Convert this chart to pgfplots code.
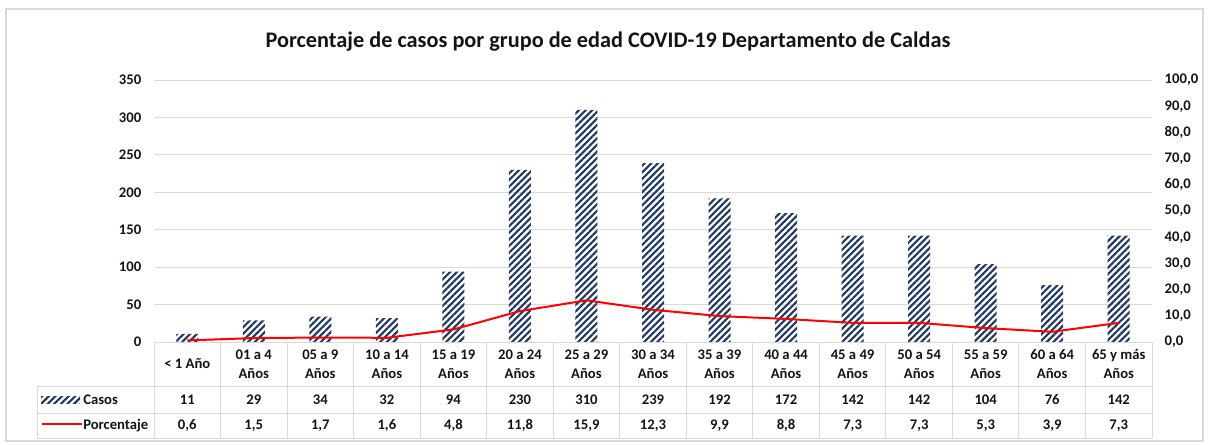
\documentclass[border=0pt]{standalone}
\usepackage{pgfplots}
\pgfplotsset{compat=1.18}
\usepackage{pgfplotstable}
\usepackage{fontspec}
\setmainfont{Carlito}
\usetikzlibrary{patterns.meta}
\definecolor{navy}{RGB}{31,56,100}
\definecolor{gridc}{RGB}{217,217,217}
\definecolor{txt}{RGB}{20,20,20}

\pgfplotstableread{
idx casos pct
0 11 0.6
1 29 1.5
2 34 1.7
3 32 1.6
4 94 4.8
5 230 11.8
6 310 15.9
7 239 12.3
8 192 9.9
9 172 8.8
10 142 7.3
11 142 7.3
12 104 5.3
13 76 3.9
14 142 7.3
}\datatable

\begin{document}
\begin{tikzpicture}
\useasboundingbox (0,0) rectangle (906.75pt,-333.75pt);
\begin{axis}[
  at={(115.5pt,-256.5pt)}, anchor=south west,
  scale only axis, width=748.5pt, height=196.5pt,
  xmin=-0.5, xmax=14.5, ymin=0, ymax=350,
  ytick={0,50,...,350},
  xtick={0,...,14},
  xticklabels={{< 1 Año},{01 a 4\\Años},{05 a 9\\Años},{10 a 14\\Años},{15 a 19\\Años},{20 a 24\\Años},{25 a 29\\Años},{30 a 34\\Años},{35 a 39\\Años},{40 a 44\\Años},{45 a 49\\Años},{50 a 54\\Años},{55 a 59\\Años},{60 a 64\\Años},{65 y más\\Años}},
  xtick pos=bottom, ytick pos=left,
  axis line style={draw=none},
  major tick length=0pt,
  ymajorgrids, grid style={gridc, line width=0.75pt},
  clip=false,
  /pgf/number format/assume math mode=true,
  tick label style={font=\fontsize{11}{14}\selectfont\bfseries, text=txt},
  xticklabel style={align=center, anchor=center, yshift=-16.5pt},
  yticklabel style={anchor=east, xshift=-6pt},
]
\addplot[ybar, bar width=16.5pt, draw=none,
  pattern={Lines[angle=45,distance=3.5pt,line width=1.6pt]}, pattern color=navy]
  table[x=idx, y=casos] {\datatable};
\addplot[draw=none, mark=none, point meta=explicit,
  nodes near coords={\pgfmathprintnumber[fixed,precision=0]{\pgfplotspointmeta}},
  every node near coord/.append style={anchor=center, font=\fontsize{11}{14}\selectfont\bfseries, text=txt}]
  table[x=idx, y expr=-76.8, meta=casos] {\datatable};
\end{axis}
\begin{axis}[
  at={(115.5pt,-256.5pt)}, anchor=south west,
  scale only axis, width=748.5pt, height=196.5pt,
  xmin=-0.5, xmax=14.5, ymin=0, ymax=100,
  ytick={0,10,...,100},
  ytick pos=right,
  hide x axis,
  axis line style={draw=none},
  major tick length=0pt,
  clip=false,
  /pgf/number format/assume math mode=true,
  tick label style={font=\fontsize{11}{14}\selectfont\bfseries, text=txt},
  yticklabel style={anchor=west, xshift=6pt, /pgf/number format/fixed, /pgf/number format/fixed zerofill, /pgf/number format/precision=1, /pgf/number format/use comma},
]
\addplot[red, line width=1.5pt, mark=none] table[x=idx, y=pct] {\datatable};
\addplot[draw=none, mark=none, point meta=explicit,
  nodes near coords={\pgfmathprintnumber[fixed,fixed zerofill,precision=1,use comma]{\pgfplotspointmeta}},
  every node near coord/.append style={anchor=center, font=\fontsize{11}{14}\selectfont\bfseries, text=txt}]
  table[x=idx, y expr=-31.87, meta=pct] {\datatable};
\end{axis}
\begin{scope}[x=0.75pt, y=-0.75pt]
  \draw[gridc, line width=1pt] (6,9) rectangle (1203,441);
  \foreach \k in {0,...,15} \draw[gridc, line width=0.75pt] ({154+\k*66.533},342) -- ({154+\k*66.533},438);
  \draw[gridc, line width=0.75pt] (37,386) -- (37,438);
  \draw[gridc, line width=0.75pt] (154,342) -- (1152,342);
  \draw[gridc, line width=0.75pt] (37,386) -- (1152,386);
  \draw[gridc, line width=0.75pt] (37,413) -- (1152,413);
  \draw[gridc, line width=0.75pt] (37,438) -- (1152,438);
  \node[font=\fontsize{16.7}{20}\selectfont\bfseries, text=txt] at (608,42) {Porcentaje de casos por grupo de edad COVID-19 Departamento de Caldas};
  \fill[pattern={Lines[angle=45,distance=3.5pt,line width=1.6pt]}, pattern color=navy] (41,396) rectangle (80,403);
  \draw[red, line width=1.5pt] (42,424) -- (82,424);
  \node[anchor=west, inner sep=0pt, font=\fontsize{11}{14}\selectfont\bfseries, text=txt] at (83,399.5) {Casos};
  \node[anchor=west, inner sep=0pt, font=\fontsize{11}{14}\selectfont\bfseries, text=txt] at (83,425.5) {Porcentaje};
\end{scope}
\end{tikzpicture}
\end{document}
